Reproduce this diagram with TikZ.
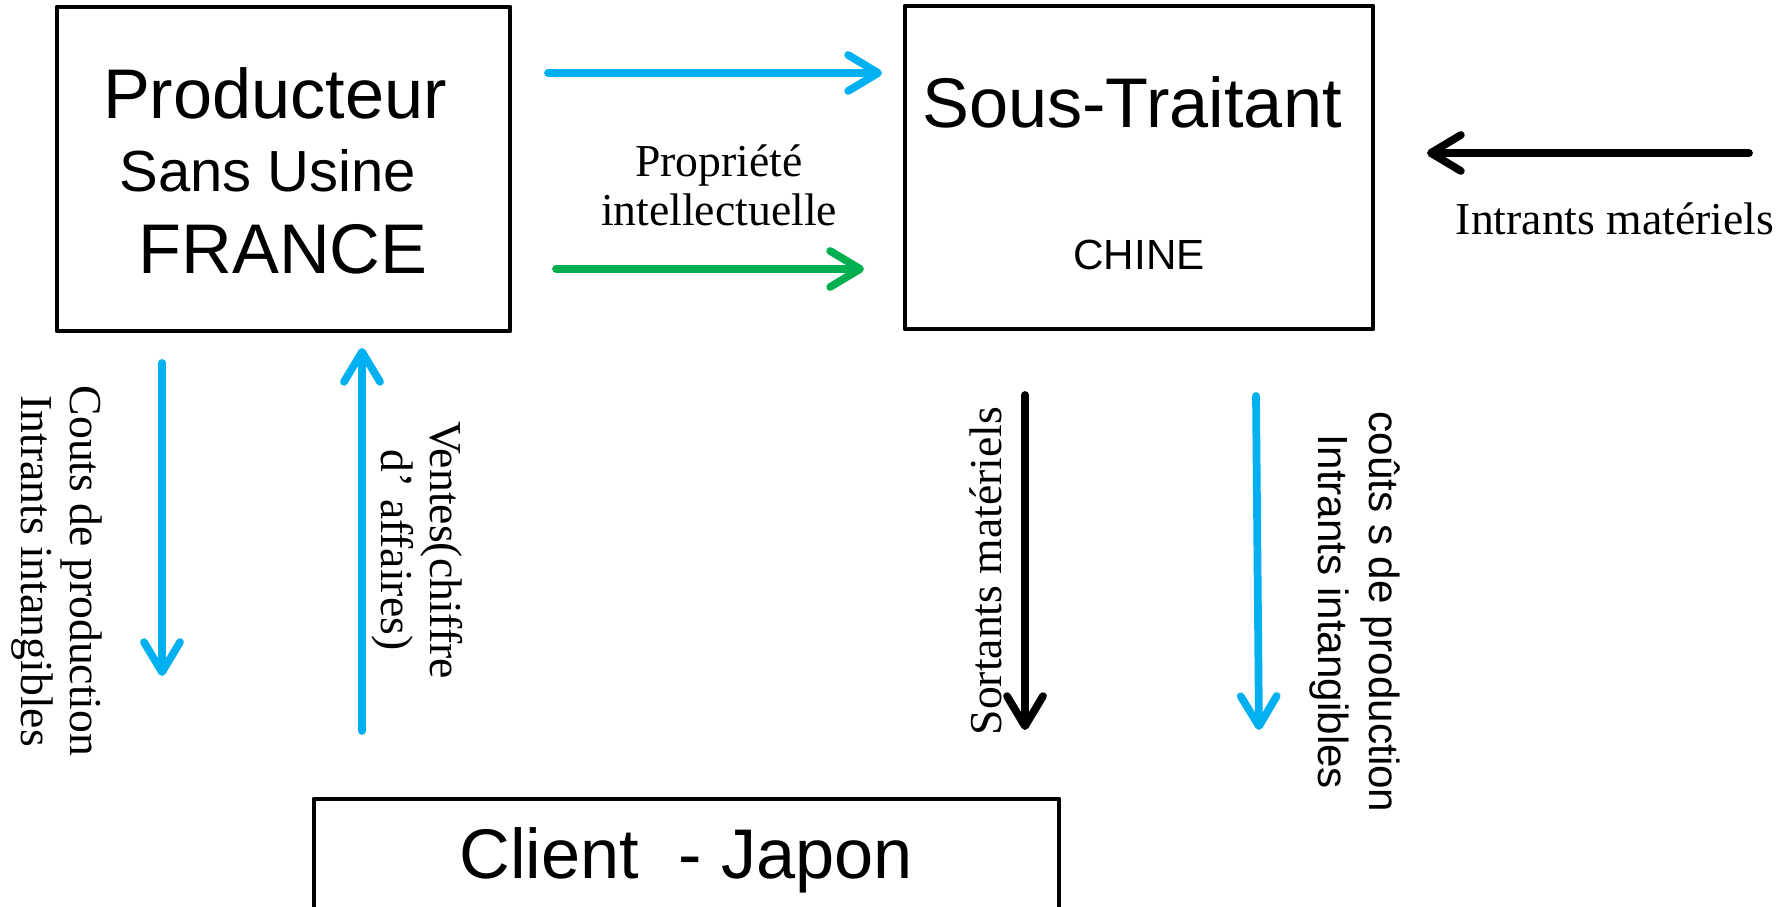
\documentclass[tikz,border=0pt]{standalone}
\usepackage{fontspec}
\setmainfont{Liberation Serif}
\setsansfont{Liberation Sans}
\usetikzlibrary{arrows.meta}
\definecolor{flowblue}{RGB}{0,176,240}
\definecolor{flowgreen}{RGB}{0,176,80}

\begin{document}
\begin{tikzpicture}[line join=round, line cap=round, >={Straight Barb[length=3mm,width=3.6mm,round]},
        box/.style={draw, line width=1.4pt, inner sep=0pt},
        boxtext/.style={anchor=base, inner sep=0pt, font=\sffamily\fontsize{#1}{#1}\selectfont},
        flow/.style={->, line width=2.2pt},
        lbl/.style={align=center, inner sep=0pt, font=\fontsize{13}{14}\selectfont}]
    \useasboundingbox (0,0) rectangle (17.9,9.07);
    % boxes
    \node[box, minimum width=4.53cm, minimum height=3.24cm] (prod) at (2.835,7.38) {};
    \node[box, minimum width=4.68cm, minimum height=3.23cm] (sous) at (11.39,7.395) {};
    \node[box, minimum width=7.45cm, minimum height=1.2cm] (client) at (6.865,0.48) {};
    \node[boxtext=20] (prodA) at (2.75,7.88) {Producteur};
    \node[boxtext=16.5] (prodB) at (2.68,7.15) {Sans Usine};
    \node[boxtext=20] (prodC) at (2.83,6.33) {FRANCE};
    \node[boxtext=20] (sousA) at (11.32,7.79) {Sous-Traitant};
    \node[boxtext=12] (sousB) at (11.39,6.37) {CHINE};
    \node[boxtext=20] (clientA) at (6.86,0.28) {Client~ - Japon};
    % arrow ends
    \coordinate (ipA) at (5.48,8.34);   \coordinate (ipB) at (8.82,8.34);
    \coordinate (grA) at (5.56,6.38);   \coordinate (grB) at (8.64,6.38);
    \coordinate (inA) at (17.49,7.54);  \coordinate (inB) at (14.27,7.54);
    \coordinate (cfA) at (1.62,5.44);   \coordinate (cfB) at (1.62,2.31);
    \coordinate (veA) at (3.62,1.76);   \coordinate (veB) at (3.62,5.59);
    \coordinate (soA) at (10.25,5.12);  \coordinate (soB) at (10.25,1.77);
    \coordinate (ccA) at (12.56,5.11);  \coordinate (ccB) at (12.59,1.77);
    \draw[flow, flowblue] (ipA) -- (ipB);
    \draw[flow, flowgreen] (grA) -- (grB);
    \draw[flow, black] (inA) -- (inB);
    \draw[flow, flowblue] (cfA) -- (cfB);
    \draw[flow, flowblue] (veA) -- (veB);
    \draw[flow, black] (soA) -- (soB);
    \draw[flow, flowblue] (ccA) -- (ccB);
    % labels
    \node[lbl] (ip) at (7.19,7.22) {Propriété\\intellectuelle};
    \node[lbl] (intrants) at (16.15,6.88) {Intrants matériels};
    \node[lbl, rotate=-90] (coutsF) at (0.57,3.36) {Couts de production\\Intrants intangibles};
    \node[lbl, rotate=-90] (ventes) at (4.17,3.57) {Ventes(chiffre\\d’ affaires)};
    \node[lbl, rotate=90] (sortants) at (9.86,3.36) {Sortants matériels};
    \node[lbl, font=\sffamily\fontsize{12}{14.5}\selectfont, rotate=-90] (coutsC) at (13.55,2.95) {coûts s de production\\Intrants intangibles};
\end{tikzpicture}
\end{document}
